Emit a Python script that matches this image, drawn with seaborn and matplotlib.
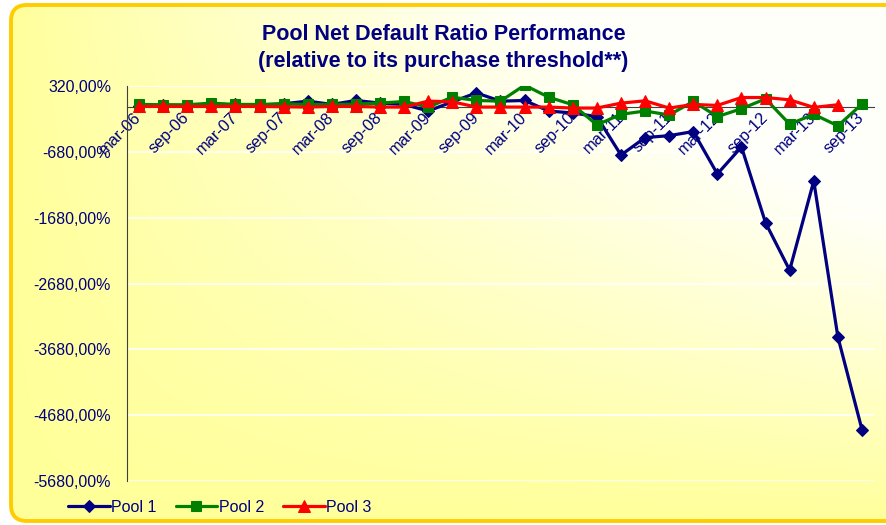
import numpy as np
import pandas as pd
import matplotlib
matplotlib.use("Agg")
import matplotlib.pyplot as plt
from matplotlib.patches import FancyBboxPatch
import seaborn as sns

# ── DATA ─────────────────────────────────────────────────────
quarters = ["mar-06", "jun-06", "sep-06", "dec-06", "mar-07", "jun-07", "sep-07", "dec-07",
            "mar-08", "jun-08", "sep-08", "dec-08", "mar-09", "jun-09", "sep-09", "dec-09",
            "mar-10", "jun-10", "sep-10", "dec-10", "mar-11", "jun-11", "sep-11", "dec-11",
            "mar-12", "jun-12", "sep-12", "dec-12", "mar-13", "jun-13", "sep-13"]

pool1 = [20, 30, 20, 30, 40, 30, 50, 90, 40, 100, 60, 40, -60, 80, 215, 90, 100, -60, -90, -145,
         -729, -464, -434, -372, -1016, -605, -1758, -2478, -1123, -3490, -4898]
pool2 = [40, 35, 35, 60, 40, 40, 50, 40, 40, 45, 60, 85, 0, 150, 100, 90, 333, 150, 35, -270,
         -110, -60, -120, 85, -145, -25, 125, -260, -110, -285, 45]
pool3 = [10, 10, 10, 10, 10, 10, 5, 0, 10, 10, 0, 0, 90, 80, 0, 0, 0, 0, -15, -15,
         60, 95, -15, 40, 25, 145, 145, 110, -5, 35]

yticks = [320, -680, -1680, -2680, -3680, -4680, -5680]

NAVY = "#000080"

# ── SETUP ────────────────────────────────────────────────────
sns.set_style("white")
plt.rcParams["font.family"] = ["Liberation Sans", "DejaVu Sans"]

fig = plt.figure(figsize=(8.87, 5.25), dpi=100)
W, H = 887, 525

# background: rounded frame with yellow -> white gradient
bg = fig.add_axes([0, 0, 1, 1], zorder=-10)
bg.set_xlim(0, W)
bg.set_ylim(0, H)
bg.axis("off")
xx, yy = np.meshgrid(np.linspace(0, 1, 300), np.linspace(0, 1, 200))  # yy: 0 bottom, 1 top
white = np.clip(xx ** 0.9 * yy ** 0.9 * 1.6, 0, 1)
yellow = np.array([255, 255, 153]) / 255
whitec = np.array([255, 255, 250]) / 255
grad = yellow[None, None, :] * (1 - white[..., None]) + whitec[None, None, :] * white[..., None]
frame = FancyBboxPatch((11, 4), 900, 516, boxstyle="round,pad=0,rounding_size=16",
                       facecolor="none", edgecolor="#FFCC00", linewidth=2.8, zorder=2)
bg.add_patch(frame)
im = bg.imshow(grad, extent=[0, W, 0, H], origin="lower", aspect="auto", zorder=1)
im.set_clip_path(frame)

# ── MAIN PLOT ────────────────────────────────────────────────
ax = fig.add_axes([127 / W, 1 - 481 / H, (874 - 127) / W, (481 - 86) / H])
ax.set_facecolor("none")

idx = np.arange(len(quarters))
df = pd.DataFrame({"x": np.concatenate([idx, idx, idx[:len(pool3)]]),
                   "y": pool1 + pool2 + pool3,
                   "pool": ["Pool 1"] * len(pool1) + ["Pool 2"] * len(pool2) + ["Pool 3"] * len(pool3)})

styles = {"Pool 1": dict(color=NAVY, marker="D", ms=6.5),
          "Pool 2": dict(color="#008000", marker="s", ms=7.5),
          "Pool 3": dict(color="#FF0000", marker="^", ms=8)}
for k, (name, st) in enumerate(styles.items()):
    sub = df[df["pool"] == name]
    sns.lineplot(data=sub, x="x", y="y", ax=ax, color=st["color"], marker=st["marker"],
                 markersize=st["ms"], markeredgecolor=st["color"], linewidth=2.3,
                 label=name, zorder=3 + k)

ax.set_xlim(-0.5, len(quarters) - 0.5)
ax.set_ylim(-5680, 320)
ax.set_xlabel("")
ax.set_ylabel("")

# y axis
ax.set_yticks(yticks)
ax.set_yticklabels([f"{v:.2f}".replace(".", ",") + "%" for v in yticks])
for v in yticks:
    ax.axhline(v, color="white", linewidth=1.2, zorder=0)
ax.tick_params(axis="y", direction="out", length=5, width=1, color="#404040",
               labelsize=11.5, labelcolor=NAVY, pad=6.5)

# x axis crosses at 0
ax.spines["top"].set_visible(False)
ax.spines["right"].set_visible(False)
ax.spines["bottom"].set_position(("data", 0))
ax.spines["bottom"].set_color("#404040")
ax.spines["left"].set_color("#404040")
ax.spines["bottom"].set_zorder(2)
ax.set_xticks(idx[::2])
ax.set_xticklabels(quarters[::2])
ax.set_xticks(np.arange(-0.5, len(quarters)), minor=True)
ax.tick_params(axis="x", which="minor", direction="out", length=5, width=1, color="#404040")
ax.tick_params(axis="x", which="major", length=0, labelsize=11.8, labelcolor=NAVY, pad=6)
for lab in ax.get_xticklabels():
    lab.set_rotation(45)
    lab.set_rotation_mode("anchor")
    lab.set_ha("right")
    lab.set_va("center")

# title
fig.text(0.5, 1 - 35 / H, "Pool Net Default Ratio Performance", ha="center", va="center",
         fontsize=15.5, fontweight="bold", color=NAVY)
fig.text(0.5, 1 - 61 / H, "(relative to its purchase threshold**)", ha="center", va="center",
         fontsize=15.5, fontweight="bold", color=NAVY)

# legend
ax.legend(loc="center left", bbox_to_anchor=(68 / W, 1 - 507 / H), bbox_transform=fig.transFigure,
          ncol=3, frameon=False, fontsize=11.5, handlelength=2.6, handletextpad=0.1,
          columnspacing=1.2, labelcolor=NAVY, borderaxespad=0, borderpad=0)

fig.savefig("out.png", dpi=100)
